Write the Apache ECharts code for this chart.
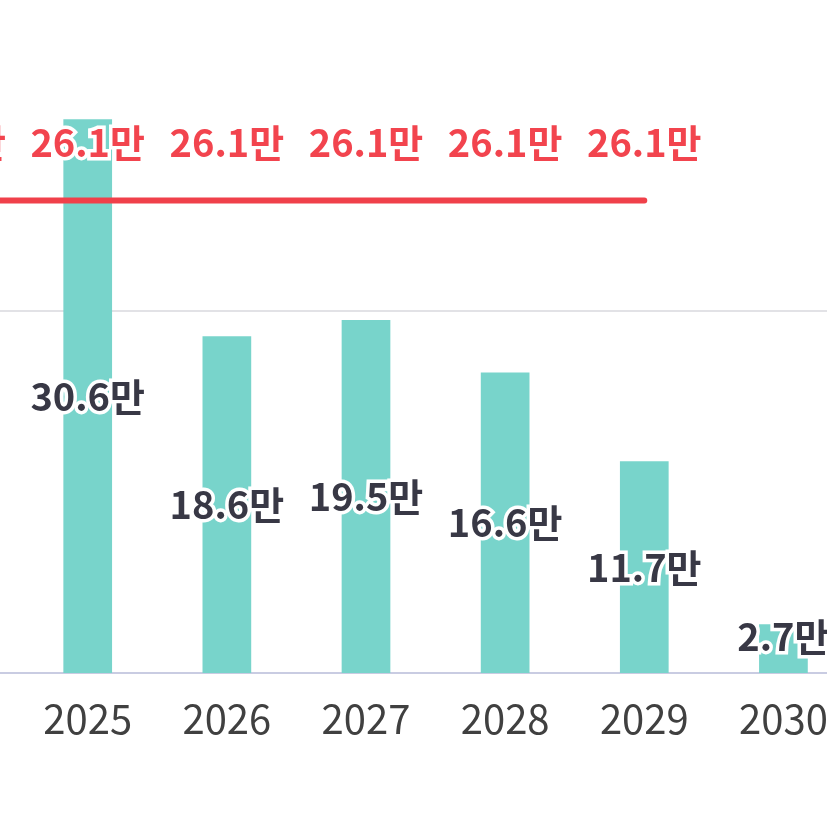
<!DOCTYPE html>
<html>
<head>
<meta charset="utf-8">
<script src="https://cdn.jsdelivr.net/npm/echarts@6/dist/echarts.min.js"></script>
<style>
html, body { margin: 0; padding: 0; width: 827px; height: 839px; overflow: hidden; background: #fff; }
#chart { position: absolute; left: -200px; top: -100px; width: 1200px; height: 900px; }
</style>
</head>
<body>
<div id="chart"></div>
<script>
var years = ['2024', '2025', '2026', '2027', '2028', '2029', '2030'];
var counts = ['-', 30.6, 18.6, 19.5, 16.6, 11.7, 2.7];   // 만
var target = [26.1, 26.1, 26.1, 26.1, 26.1, 26.1, '-'];  // 만
var yTicks = [0, 20, 40];

var myChart = echarts.init(document.getElementById('chart'));
var font = "'Noto Sans CJK KR', 'Noto Sans', sans-serif";

// 작은 막대는 라벨을 조금 위로
var barData = counts.map(function (v) {
	if (v !== '-' && v < 5) {
		return { value: v, label: { offset: [0, -12] } };
	}
	return v;
});

myChart.setOption({
	animation: false,
	grid: {
		left: 79,
		top: 49,
		width: 974,
		height: 724,
		outerBoundsMode: 'none'
	},
	xAxis: {
		type: 'category',
		data: years,
		axisTick: { show: false },
		axisLine: { lineStyle: { color: '#c9cce2', width: 2 } },
		axisLabel: { color: '#404040', fontSize: 40, fontFamily: font, margin: 26 }
	},
	yAxis: {
		type: 'value',
		min: yTicks[0],
		max: yTicks[yTicks.length - 1],
		interval: yTicks[1] - yTicks[0],
		axisLabel: { show: false },
		splitLine: { lineStyle: { color: '#e2e2e6', width: 2 } }
	},
	series: [
		{
			name: '인원',
			type: 'bar',
			data: barData,
			barWidth: '35%',
			itemStyle: { color: '#78d4cb' },
			label: {
				show: true,
				position: 'inside',
				formatter: '{c}만',
				color: '#383845',
				fontSize: 38,
				fontWeight: 'bold',
				fontFamily: font,
				textBorderColor: '#fff',
				textBorderWidth: 7
			}
		},
		{
			name: '기준',
			type: 'line',
			data: target,
			symbol: 'circle',
			symbolSize: 0,
			showSymbol: true,
			z: 5,
			itemStyle: { color: '#f0404a' },
			lineStyle: { color: '#f0404a', width: 6, cap: 'round' },
			label: {
				show: true,
				position: 'top',
				distance: 39,
				formatter: '{c}만',
				color: '#f2444e',
				fontSize: 38,
				fontWeight: 'bold',
				fontFamily: font,
				textBorderColor: '#fff',
				textBorderWidth: 7
			}
		}
	]
});
</script>
</body>
</html>
